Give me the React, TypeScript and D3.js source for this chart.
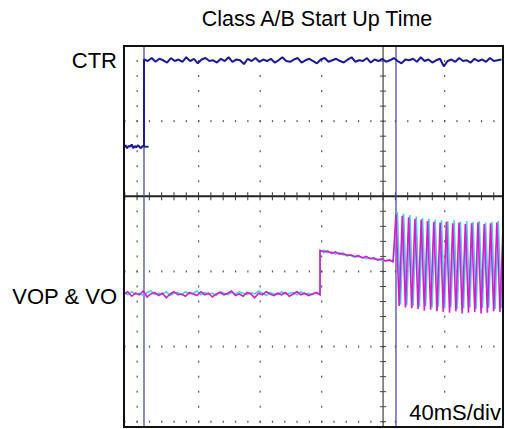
import * as d3 from 'd3';

// time axis in ms (40 ms/div), voltage axis in divisions (0 = centre line)
const tDomain = [-8.5, 238];
const vDomain = [-3.07, 2];

const title = 'Class A/B Start Up Time';
const ctrLabel = 'CTR';
const outLabel = 'VOP & VO';
const timebase = '40mS/div';

const cursorTimes = [4.5, 168.4];
const triggerLevel = 0.66;
const triggerEnd = 7.5;

// CTR low before the edge, 1 ms samples from -8.5 ms
const ctrLowStart = -8.5;
const ctrLowStep = 1;
const ctrLow = [0.65, 0.68, 0.64, 0.67, 0.66, 0.69, 0.64, 0.67, 0.65, 0.68, 0.66, 0.64, 0.67, 0.66];

// CTR high after the edge, 2.5 ms samples from 4.5 ms
const ctrHighStart = 4.5;
const ctrHighStep = 2.5;
const ctrHigh = [
  1.82, 1.8, 1.84, 1.79, 1.83, 1.81, 1.78, 1.84, 1.8, 1.82,
  1.79, 1.85, 1.8, 1.83, 1.77, 1.82, 1.84, 1.8, 1.81, 1.78,
  1.83, 1.8, 1.85, 1.79, 1.82, 1.81, 1.76, 1.83, 1.8, 1.84,
  1.79, 1.82, 1.8, 1.83, 1.78, 1.81, 1.85, 1.8, 1.79, 1.82,
  1.84, 1.78, 1.81, 1.83, 1.8, 1.77, 1.82, 1.84, 1.79, 1.81,
  1.83, 1.8, 1.78, 1.82, 1.85, 1.79, 1.81, 1.8, 1.84, 1.78,
  1.82, 1.8, 1.83, 1.79, 1.81, 1.84, 1.8, 1.77, 1.82, 1.81,
  1.83, 1.79, 1.85, 1.8, 1.82, 1.78, 1.81, 1.83, 1.73, 1.8,
  1.82, 1.79, 1.84, 1.8, 1.81, 1.78, 1.83, 1.8, 1.82, 1.79,
  1.84, 1.8, 1.81, 1.82,
];

// VOP / VO idle, 2.5 ms samples from -8.5 ms
const preStart = -8.5;
const preStep = 2.5;
const vopPre = [
  -1.3, -1.27, -1.33, -1.29, -1.31, -1.26, -1.34, -1.3, -1.28, -1.32,
  -1.29, -1.35, -1.3, -1.27, -1.31, -1.3, -1.33, -1.28, -1.3, -1.32,
  -1.27, -1.31, -1.29, -1.34, -1.3, -1.28, -1.31, -1.29, -1.26, -1.32,
  -1.3, -1.33, -1.28, -1.3, -1.35, -1.29, -1.31, -1.27, -1.3, -1.32,
  -1.29, -1.31, -1.28, -1.33, -1.3, -1.27, -1.31, -1.29, -1.32, -1.3,
  -1.28, -1.31,
];
const voPre = [
  -1.28, -1.31, -1.27, -1.3, -1.29, -1.32, -1.28, -1.26, -1.31, -1.29,
  -1.3, -1.27, -1.32, -1.29, -1.28, -1.31, -1.27, -1.3, -1.29, -1.26,
  -1.31, -1.28, -1.3, -1.29, -1.32, -1.27, -1.29, -1.31, -1.28, -1.3,
  -1.27, -1.29, -1.31, -1.28, -1.3, -1.26, -1.29, -1.32, -1.28, -1.3,
  -1.31, -1.27, -1.3, -1.29, -1.28, -1.31, -1.27, -1.3, -1.29, -1.31,
  -1.28, -1.3,
];

// after the step at 119 ms, 2.5 ms samples
const postStart = 119;
const postStep = 2.5;
const vopPost = [
  -0.72, -0.74, -0.73, -0.76, -0.74, -0.77, -0.76, -0.79, -0.78, -0.8,
  -0.79, -0.82, -0.8, -0.83, -0.82, -0.85, -0.83, -0.86, -0.85, -0.87,
];
const voPost = [
  -0.73, -0.72, -0.75, -0.74, -0.77, -0.75, -0.78, -0.77, -0.79, -0.81,
  -0.8, -0.81, -0.83, -0.82, -0.84, -0.83, -0.85, -0.86, -0.84, -0.87,
];

// amplifier running: peaks and troughs every half period
const oscStart = 168.4;
const oscHalf = 2.05;
const voPhase = 0.9;
const vopOsc = [
  -0.24, -1.46, -0.26, -1.48, -0.28, -1.49, -0.3, -1.5, -0.31, -1.52,
  -0.33, -1.51, -0.34, -1.53, -0.35, -1.54, -0.34, -1.55, -0.36, -1.53,
  -0.35, -1.56, -0.37, -1.55, -0.36, -1.54, -0.35, -1.56, -0.37, -1.55,
  -0.36, -1.53, -0.35, -1.54, -0.36,
];
const voOsc = [
  -0.21, -1.44, -0.23, -1.45, -0.25, -1.46, -0.27, -1.47, -0.29, -1.46,
  -0.3, -1.48, -0.31, -1.47, -0.32, -1.49, -0.33, -1.48, -0.32, -1.5,
  -0.34, -1.49, -0.33, -1.48, -0.34, -1.5, -0.33, -1.49, -0.35, -1.48,
  -0.34, -1.5, -0.33, -1.49, -0.34,
];

const gridTimes = [0, 40, 80, 120, 200];
const centreTime = 160;
const gridVolts = [1, -1, -2, -3];

type Pt = [number, number];
const sampled = (start: number, step: number, vals: number[]): Pt[] =>
  vals.map((v, i) => [start + i * step, v]);

export default function App() {
  const width = 505;
  const height = 429;
  const left = 124,
    right = 503,
    top = 46,
    bottom = 427;

  const x = d3.scaleLinear().domain(tDomain).range([left, right]);
  const y = d3.scaleLinear().domain(vDomain).range([bottom, top]);
  const line = d3
    .line<Pt>()
    .x((d) => x(d[0]))
    .y((d) => y(d[1]));

  const ctr = [...sampled(ctrLowStart, ctrLowStep, ctrLow), ...sampled(ctrHighStart, ctrHighStep, ctrHigh)];
  const vop = [
    ...sampled(preStart, preStep, vopPre),
    ...sampled(postStart, postStep, vopPost),
    ...sampled(oscStart, oscHalf, vopOsc),
  ];
  const vo = [
    ...sampled(preStart, preStep, voPre),
    ...sampled(postStart, postStep, voPost),
    ...sampled(oscStart + voPhase, oscHalf, voOsc),
  ];

  const dotT = d3.range(-8, 238, 8);
  const dotV = d3.range(-3, 2.01, 0.2);

  return (
    <svg width={width} height={height} style={{ position: 'absolute', left: 0, top: 0 }}>
      <rect width={width} height={height} fill="#fff" />
      <defs>
        <clipPath id="plot">
          <rect x={left} y={top} width={right - left} height={bottom - top} />
        </clipPath>
      </defs>
      <text x={317} y={26} textAnchor="middle" fontFamily="Liberation Sans, Arial" fontSize={21.5}>
        {title}
      </text>
      <text x={117} y={68} textAnchor="end" fontFamily="Liberation Sans, Arial" fontSize={22}>
        {ctrLabel}
      </text>
      <text x={117} y={304} textAnchor="end" fontFamily="Liberation Sans, Arial" fontSize={22}>
        {outLabel}
      </text>

      <g clipPath="url(#plot)">
        {/* dotted graticule */}
        {gridTimes.map((t) =>
          dotV.map((v) => (
            <rect key={`gv${t}_${v}`} x={x(t) - 0.5} y={y(v) - 1} width={1.2} height={2} fill="#555" />
          )),
        )}
        {gridVolts.map((v) =>
          dotT.map((t) => (
            <rect key={`gh${v}_${t}`} x={x(t) - 0.5} y={y(v) - 1} width={1.2} height={2} fill="#555" />
          )),
        )}
        {/* centre axes with minor ticks */}
        <line x1={x(centreTime)} x2={x(centreTime)} y1={top} y2={bottom} stroke="#444" strokeWidth={1.2} />
        {dotV.map((v) => (
          <line key={`cv${v}`} x1={x(centreTime) - 3} x2={x(centreTime) + 3} y1={y(v)} y2={y(v)} stroke="#444" strokeWidth={1} />
        ))}
        <line x1={left} x2={right} y1={y(0)} y2={y(0)} stroke="#222" strokeWidth={2} />
        {dotT.map((t) => (
          <line key={`ch${t}`} x1={x(t)} x2={x(t)} y1={y(0) - 4} y2={y(0) + 4} stroke="#333" strokeWidth={1} />
        ))}

        {/* cursors */}
        {cursorTimes.map((t) => (
          <line key={`cur${t}`} x1={x(t)} x2={x(t)} y1={top} y2={bottom} stroke="#4a4ab8" strokeWidth={1.3} />
        ))}

        {/* traces */}
        <line
          x1={x(cursorTimes[0])}
          x2={x(triggerEnd)}
          y1={y(triggerLevel)}
          y2={y(triggerLevel)}
          stroke="#1a1aa0"
          strokeWidth={1.8}
        />
        <path d={line(ctr) ?? ''} fill="none" stroke="#1a1aa0" strokeWidth={2} strokeLinejoin="bevel" />
        <path d={line(vo) ?? ''} fill="none" stroke="#3fd2e2" strokeWidth={1.5} />
        <path d={line(vop) ?? ''} fill="none" stroke="#d81ad0" strokeWidth={1.6} />

        <rect x={405} y={399} width={right - 405} height={bottom - 399} fill="#fff" />
        <text x={501} y={420} textAnchor="end" fontFamily="Liberation Sans, Arial" fontSize={22}>
          {timebase}
        </text>
      </g>

      <rect x={left} y={top} width={right - left} height={bottom - top} fill="none" stroke="#111" strokeWidth={2} />
    </svg>
  );
}
